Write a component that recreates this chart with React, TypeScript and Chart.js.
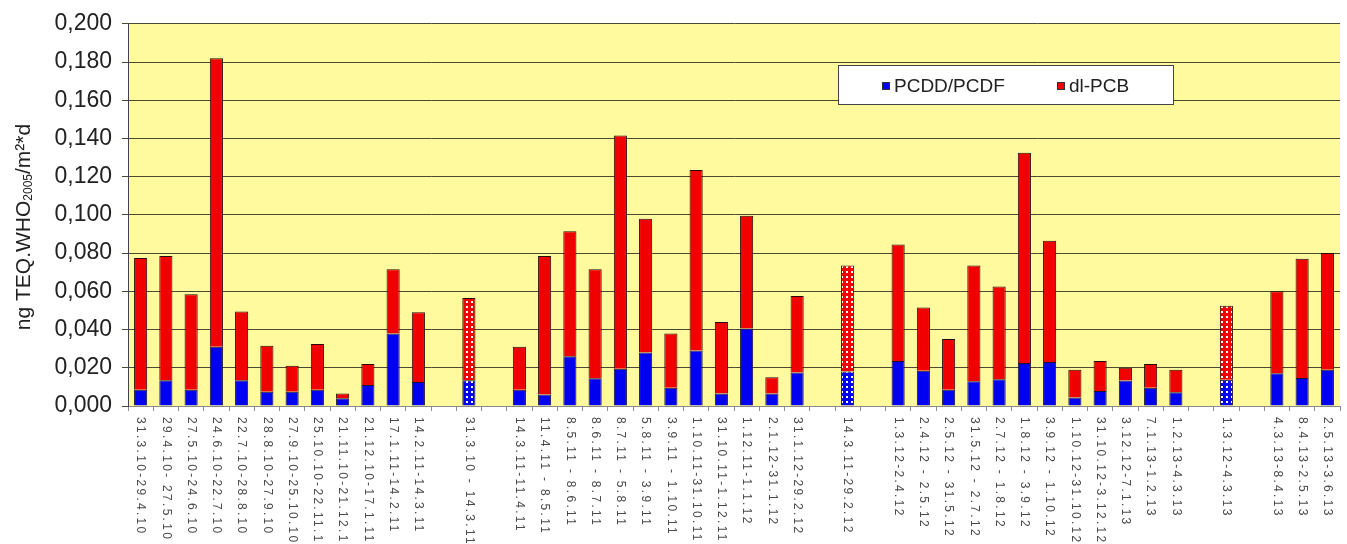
import React, { useEffect, useRef } from 'react';
import { Chart, registerables } from 'chart.js';

Chart.register(...registerables);

const FONT = 'Arial, "Liberation Sans", sans-serif';

const categories: string[] = [
  '31.3.10-29.4.10', '29.4.10- 27.5.10', '27.5.10-24.6.10', '24.6.10-22.7.10',
  '22.7.10-28.8.10', '28.8.10-27.9.10', '27.9.10-25.10.10', '25.10.10-22.11.10',
  '21.11.10-21.12.10', '21.12.10-17.1.11', '17.1.11-14.2.11', '14.2.11-14.3.11',
  '', '31.3.10 - 14.3.11', '',
  '14.3.11-11.4.11', '11.4.11 - 8.5.11', '8.5.11 - 8.6.11', '8.6.11 - 8.7.11',
  '8.7.11 - 5.8.11', '5.8.11 - 3.9.11', '3.9.11 - 1.10.11', '1.10.11-31.10.11',
  '31.10.11-1.12.11', '1.12.11-1.1.12', '2.1.12-31.1.12', '31.1.12-29.2.12',
  '', '14.3.11-29.2.12', '',
  '1.3.12-2.4.12', '2.4.12 - 2.5.12', '2.5.12 - 31.5.12', '31.5.12 - 2.7.12',
  '2.7.12 - 1.8.12', '1.8.12 - 3.9.12', '3.9.12 - 1.10.12', '1.10.12-31.10.12',
  '31.10.12-3.12.12', '3.12.12-7.1.13', '7.1.13-1.2.13', '1.2.13-4.3.13',
  '', '1.3.12-4.3.13', '',
  '4.3.13-8.4.13', '8.4.13-2.5.13', '2.5.13-3.6.13',
];

const pcddPcdf: (number | null)[] = [
  0.0085, 0.0135, 0.0085, 0.031, 0.0135, 0.0075, 0.0075, 0.0085, 0.004, 0.011, 0.038, 0.0125,
  null, 0.0135, null,
  0.0085, 0.006, 0.026, 0.0145, 0.0195, 0.028, 0.0095, 0.029, 0.0065, 0.0405, 0.0065, 0.0175,
  null, 0.018, null,
  0.0235, 0.0185, 0.0085, 0.013, 0.014, 0.0225, 0.023, 0.0045, 0.0078, 0.0133, 0.0095, 0.0072,
  null, 0.0138, null,
  0.0172, 0.0147, 0.019,
];

const dlPcb: (number | null)[] = [
  0.069, 0.065, 0.05, 0.151, 0.036, 0.024, 0.0135, 0.024, 0.0025, 0.011, 0.0335, 0.0365,
  null, 0.043, null,
  0.0225, 0.0725, 0.0655, 0.057, 0.122, 0.07, 0.0285, 0.0945, 0.0375, 0.059, 0.0085, 0.04,
  null, 0.0555, null,
  0.061, 0.033, 0.0265, 0.0605, 0.0485, 0.11, 0.0635, 0.0145, 0.0157, 0.0067, 0.0125, 0.0118,
  null, 0.0387, null,
  0.0428, 0.0623, 0.061,
];

// categories that are whole-period (cumulative) samples, drawn dotted
const cumulativePeriods: string[] = ['31.3.10 - 14.3.11', '14.3.11-29.2.12', '1.3.12-4.3.13'];

const seriesNames = ['PCDD/PCDF', 'dl-PCB'];

export default function App() {
  const ref = useRef<HTMLCanvasElement>(null);

  useEffect(() => {
    document.body.style.margin = '0';
    const canvas = ref.current!;
    const mainCtx = canvas.getContext('2d')!;

    const makePattern = (base: string) => {
      const c = document.createElement('canvas');
      c.width = 5;
      c.height = 5;
      const g = c.getContext('2d')!;
      g.fillStyle = base;
      g.fillRect(0, 0, 5, 5);
      g.fillStyle = '#ffffff';
      g.fillRect(1, 1, 2, 2);
      return mainCtx.createPattern(c, 'repeat')!;
    };

    const BLUE = '#0000f0';
    const RED = '#f00000';
    const bluePat = makePattern(BLUE);
    const redPat = makePattern(RED);
    const isCum = (i: number) => cumulativePeriods.includes(categories[i]);

    const plotBg = {
      id: 'plotBg',
      beforeDraw(chart: any) {
        const { ctx, chartArea } = chart;
        ctx.save();
        ctx.fillStyle = '#fffa9e';
        ctx.fillRect(chartArea.left, chartArea.top, chartArea.right - chartArea.left, chartArea.bottom - chartArea.top);
        ctx.restore();
      },
    };

    const xLabels = {
      id: 'xLabels',
      afterDraw(chart: any) {
        const { ctx, chartArea } = chart;
        const xs = chart.scales.x;
        ctx.save();
        ctx.font = `12px ${FONT}`;
        ctx.fillStyle = '#4a4a4a';
        (ctx as any).letterSpacing = '2.3px';
        ctx.textAlign = 'left';
        ctx.textBaseline = 'middle';
        categories.forEach((lab, i) => {
          if (!lab) return;
          const x = xs.getPixelForValue(i);
          ctx.save();
          ctx.translate(x, chartArea.bottom + 11);
          ctx.rotate(Math.PI / 2);
          ctx.fillText(lab, 0, 0);
          ctx.restore();
        });
        ctx.restore();
      },
    };

    const yTitle = {
      id: 'yTitle',
      afterDraw(chart: any) {
        const { ctx } = chart;
        const parts = [
          { t: 'ng TEQ.WHO', size: 21, dy: 0 },
          { t: '2005', size: 12, dy: 5 },
          { t: '/m²*d', size: 21, dy: 0 },
        ];
        ctx.save();
        let total = 0;
        parts.forEach((p) => {
          ctx.font = `${p.size}px ${FONT}`;
          total += ctx.measureText(p.t).width;
        });
        const cy = 227;
        ctx.translate(24, cy + total / 2);
        ctx.rotate(-Math.PI / 2);
        ctx.fillStyle = '#222';
        ctx.textAlign = 'left';
        ctx.textBaseline = 'middle';
        let x = 0;
        parts.forEach((p) => {
          ctx.font = `${p.size}px ${FONT}`;
          ctx.fillText(p.t, x, p.dy);
          x += ctx.measureText(p.t).width;
        });
        ctx.restore();
      },
    };

    const boxLegend = {
      id: 'boxLegend',
      afterDraw(chart: any) {
        const { ctx } = chart;
        ctx.save();
        ctx.fillStyle = '#ffffff';
        ctx.fillRect(838.5, 65.5, 335, 39);
        ctx.strokeStyle = '#444';
        ctx.lineWidth = 1;
        ctx.strokeRect(838.5, 65.5, 335, 39);
        const items = [
          { x: 882, c: BLUE, t: chart.data.datasets[0].label },
          { x: 1057, c: RED, t: chart.data.datasets[1].label },
        ];
        ctx.font = `19px ${FONT}`;
        ctx.textBaseline = 'middle';
        ctx.textAlign = 'left';
        items.forEach((it) => {
          ctx.fillStyle = it.c;
          ctx.fillRect(it.x, 82, 8, 8);
          ctx.strokeStyle = '#333';
          ctx.strokeRect(it.x + 0.5, 82.5, 7, 7);
          ctx.fillStyle = '#222';
          ctx.fillText(it.t, it.x + 12, 87);
        });
        ctx.restore();
      },
    };

    const chart = new Chart(canvas, {
      type: 'bar',
      data: {
        labels: categories,
        datasets: [
          {
            label: seriesNames[0],
            data: pcddPcdf,
            backgroundColor: categories.map((_, i) => (isCum(i) ? bluePat : BLUE)) as any,
            borderColor: '#1a1030',
            borderWidth: 1,
            barPercentage: 0.52,
            categoryPercentage: 1,
          },
          {
            label: seriesNames[1],
            data: dlPcb,
            backgroundColor: categories.map((_, i) => (isCum(i) ? redPat : RED)) as any,
            borderColor: '#2a0808',
            borderWidth: 1,
            barPercentage: 0.52,
            categoryPercentage: 1,
          },
        ],
      },
      options: {
        animation: false,
        responsive: false,
        devicePixelRatio: 1,
        layout: { padding: { left: 0, right: 7, top: 18, bottom: 0 } },
        plugins: { legend: { display: false }, tooltip: { enabled: false } },
        scales: {
          x: {
            stacked: true,
            offset: true,
            grid: { display: true, drawOnChartArea: false, drawTicks: true, tickLength: 5, color: '#8a8a8a', offset: true },
            border: { color: '#8a8a8a' },
            ticks: { display: false },
            afterFit: (s: any) => {
              s.height = 138;
            },
          },
          y: {
            stacked: true,
            min: 0,
            max: 0.2,
            ticks: {
              stepSize: 0.02,
              font: { family: FONT, size: 23 },
              color: '#222',
              padding: 10,
              callback: (v: any) => Number(v).toFixed(3).replace('.', ','),
            },
            grid: { color: '#4a4a32', tickLength: 6 },
            border: { color: '#444' },
            afterFit: (s: any) => {
              s.width = 128;
            },
          },
        },
      },
      plugins: [plotBg, xLabels, yTitle, boxLegend],
    });

    return () => chart.destroy();
  }, []);

  return <canvas ref={ref} width={1347} height={544} style={{ display: 'block' }} />;
}
